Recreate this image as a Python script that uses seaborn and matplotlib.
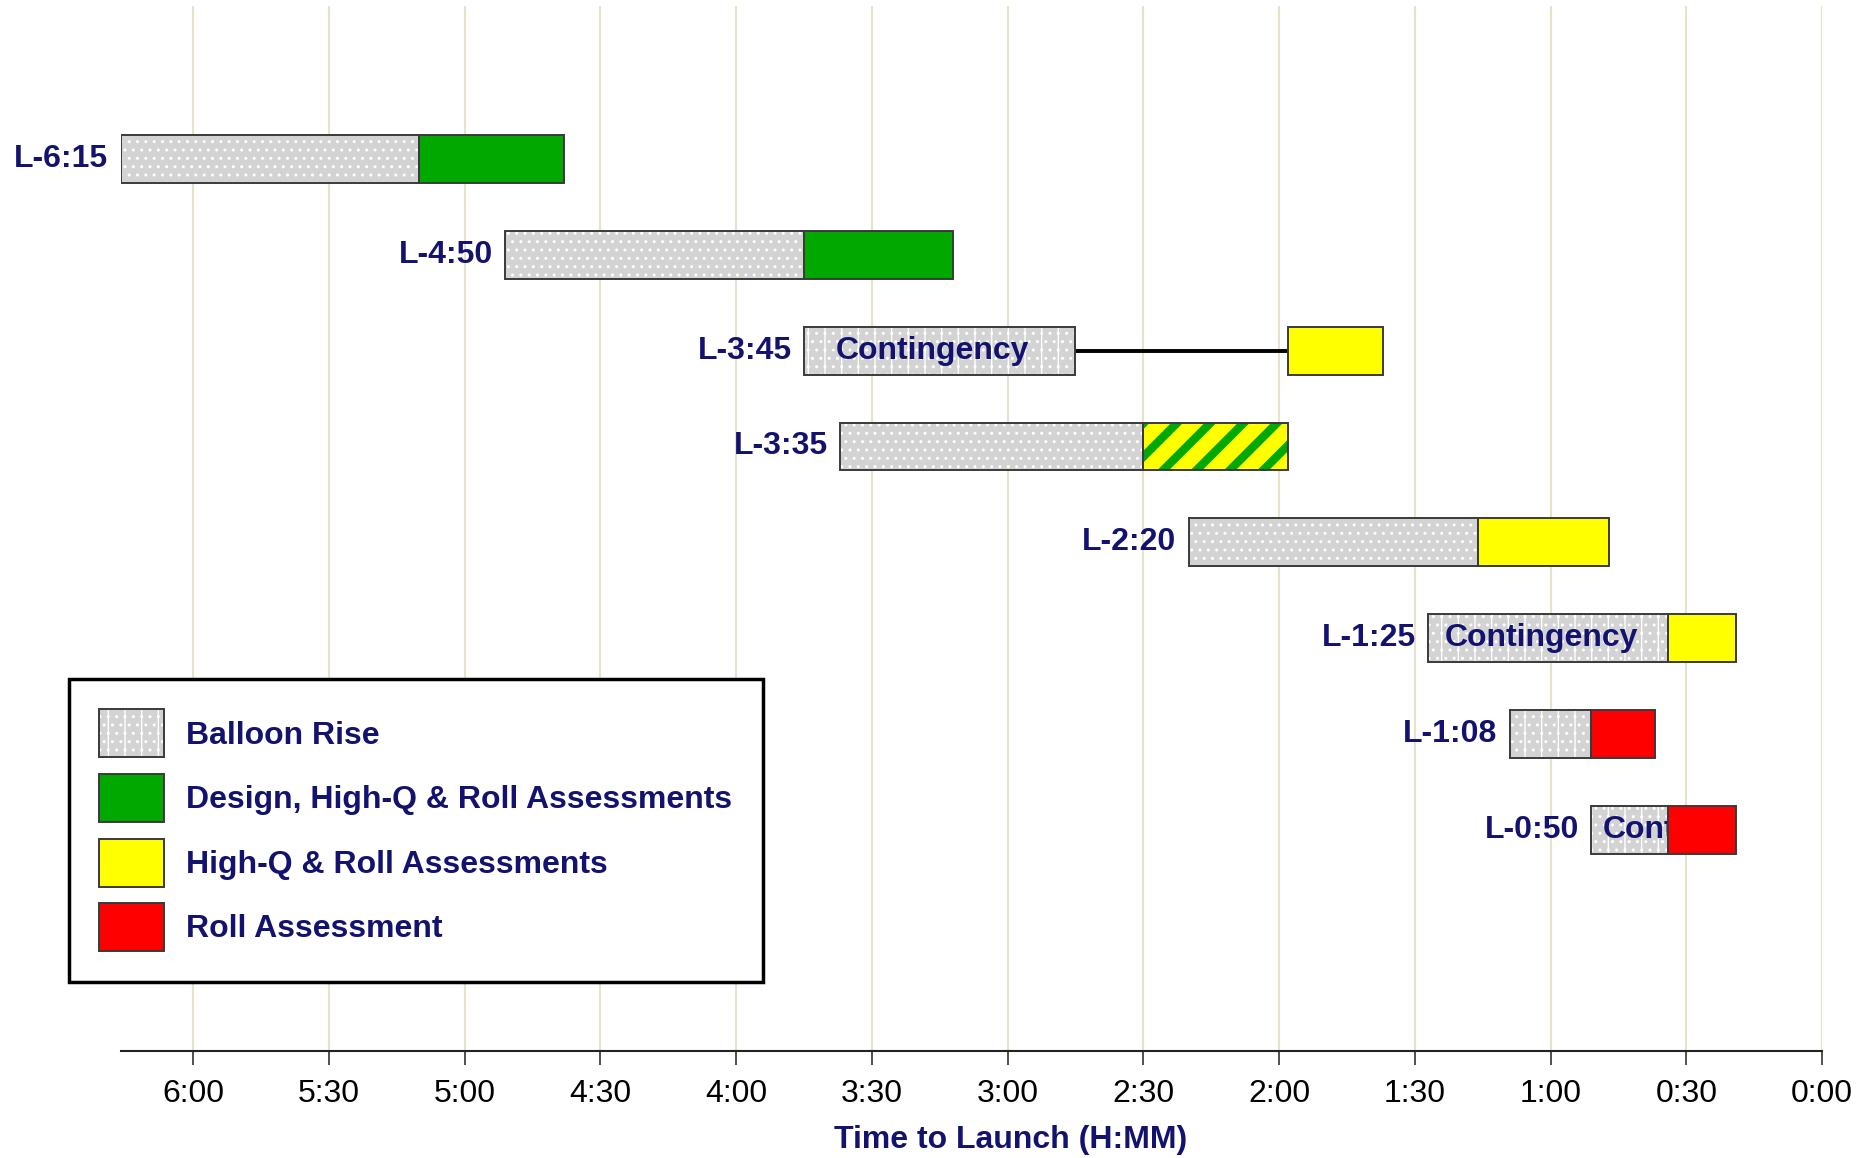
import numpy as np
import matplotlib
matplotlib.use("Agg")
import matplotlib.pyplot as plt
import seaborn as sns
from matplotlib.patches import Patch

# launch windows, minutes before launch
labels = ["L-6:15", "L-4:50", "L-3:45", "L-3:35", "L-2:20", "L-1:25", "L-1:08", "L-0:50"]
rise_start = [376, 291, 225, 217, 140, 87, 69, 51]
rise_end = [310, 225, 165, 150, 76, 34, 51, 34]
assess_start = [310, 225, 118, 150, 76, 34, 51, 34]
assess_end = [278, 192, 97, 118, 47, 19, 37, 19]
assess_kind = ["design", "design", "highq", "mixed", "highq", "highq", "roll", "roll"]
bar_text = ["", "", "Contingency", "", "", "Contingency", "", "Cont"]

tick_minutes = [360, 330, 300, 270, 240, 210, 180, 150, 120, 90, 60, 30, 0]
tick_labels = ["6:00", "5:30", "5:00", "4:30", "4:00", "3:30", "3:00",
               "2:30", "2:00", "1:30", "1:00", "0:30", "0:00"]

legend_labels = ["Balloon Rise", "Design, High-Q & Roll Assessments",
                 "High-Q & Roll Assessments", "Roll Assessment"]

NAVY = "#13136F"
GRAY = "#D3D3D3"
EDGE = "#3A3A3A"
GREEN = "#00A800"
YELLOW = "#FFFF00"
RED = "#FF0000"
kind_color = {"design": GREEN, "highq": YELLOW, "roll": RED, "mixed": YELLOW}
FS = 23

sns.set_theme(style="white")
plt.rcParams["font.family"] = ["Liberation Sans", "DejaVu Sans"]
plt.rcParams["hatch.linewidth"] = 1.0

fig = plt.figure(figsize=(18.74, 11.58), dpi=100)
ax = fig.add_axes([0.0644, 0.0924, 0.9079, 0.9026])

y = np.arange(len(labels))
rs, re_ = np.array(rise_start), np.array(rise_end)
a_s, a_e = np.array(assess_start), np.array(assess_end)
H = 0.5

# balloon rise (gray, dotted pattern)
rise = ax.barh(y, rs - re_, left=re_, height=H, color=GRAY, edgecolor="white",
               linewidth=0, zorder=2)
for i, p in enumerate(rise):
    p.set_hatch("|.." if bar_text[i] or i == 6 else "..")

# text inside contingency bars
for i, t in enumerate(bar_text):
    if t == "Cont":
        ax.text(rs[i] - 2.5, y[i], t, ha="left", va="center", fontsize=FS,
                fontweight="bold", color=NAVY, zorder=3)
    elif t:
        ax.text((rs[i] + re_[i]) / 2 + 1.5, y[i], t, ha="center", va="center",
                fontsize=FS, fontweight="bold", color=NAVY, zorder=3)

# gap line between contingency and assessment
for i in range(len(labels)):
    if a_s[i] < re_[i]:
        ax.hlines(y[i], a_s[i], re_[i], color="black", lw=2.8, zorder=2)

# assessments
for i, k in enumerate(assess_kind):
    if k == "mixed":
        with plt.rc_context({"hatch.linewidth": 6}):
            ax.barh(y[i], a_s[i] - a_e[i], left=a_e[i], height=H, color=YELLOW,
                    edgecolor=GREEN, hatch="/", linewidth=0, zorder=4)
    else:
        ax.barh(y[i], a_s[i] - a_e[i], left=a_e[i], height=H,
                color=kind_color[k], linewidth=0, zorder=4)

# outlines
ax.barh(y, rs - re_, left=re_, height=H, fill=False, edgecolor=EDGE,
        linewidth=1.4, zorder=5)
ax.barh(y, a_s - a_e, left=a_e, height=H, fill=False, edgecolor=EDGE,
        linewidth=1.4, zorder=5)

# row labels
for i, lab in enumerate(labels):
    ax.text(rs[i] + 2.7, y[i], lab, ha="right", va="center", fontsize=FS,
            fontweight="bold", color=NAVY)

ax.set_xlim(376, 0)
ax.set_ylim(9.31, -1.6)
ax.set_yticks([])
ax.set_xticks(tick_minutes)
ax.set_xticklabels(tick_labels)
ax.grid(axis="x", color="#E6E2CC", lw=1.5)
ax.grid(axis="y", visible=False)
ax.set_axisbelow(True)
ax.tick_params(axis="x", bottom=True, direction="out", length=10, width=1.2,
               color="#333333", pad=10, labelsize=FS, labelcolor="black")
sns.despine(ax=ax, left=True)
ax.spines["bottom"].set_color("#222222")
ax.spines["bottom"].set_linewidth(1.5)
ax.set_xlabel("Time to Launch (H:MM)", fontsize=FS, fontweight="bold",
              color=NAVY, labelpad=12, x=0.523)

handles = [
    (Patch(facecolor=GRAY, edgecolor="white", hatch="|..", linewidth=0),
     Patch(fill=False, edgecolor=EDGE, linewidth=1.4)),
    Patch(facecolor=GREEN, edgecolor=EDGE, linewidth=1.4),
    Patch(facecolor=YELLOW, edgecolor=EDGE, linewidth=1.4),
    Patch(facecolor=RED, edgecolor=EDGE, linewidth=1.4),
]
leg = fig.legend(handles, legend_labels, loc="upper left",
                 bbox_to_anchor=(0.0368, 0.4136), bbox_transform=fig.transFigure,
                 prop=dict(weight="bold", size=FS), labelcolor=NAVY,
                 handlelength=2.04, handleheight=1.935, labelspacing=0.52,
                 borderpad=0.95, handletextpad=0.68, borderaxespad=0,
                 frameon=True, fancybox=False, framealpha=1, edgecolor="black")
leg.get_frame().set_linewidth(2.5)

fig.savefig("out.png", dpi=100)
